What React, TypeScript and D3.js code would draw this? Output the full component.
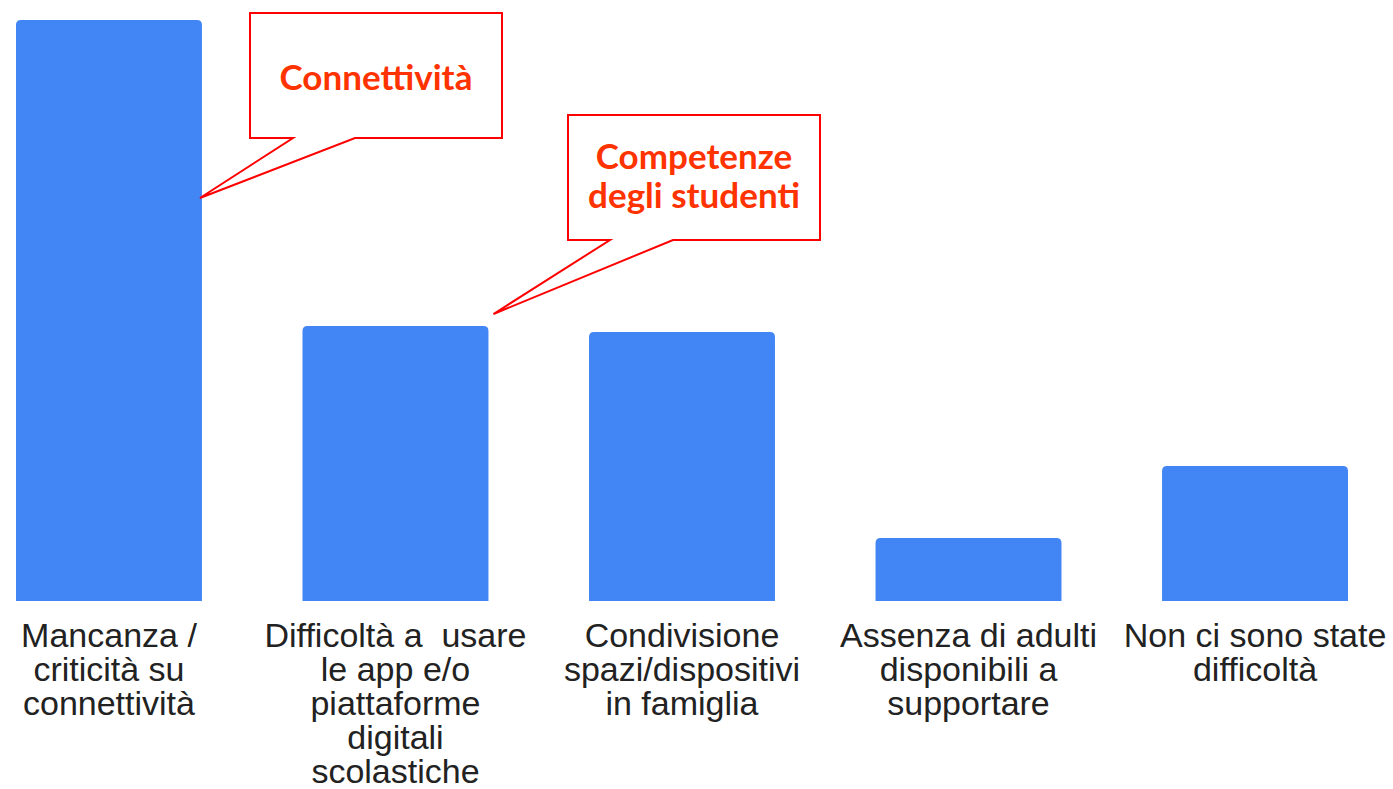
import React from 'react';
import * as d3 from 'd3';

const categories = [
  'Mancanza / criticità su connettività',
  'Difficoltà a  usare le app e/o piattaforme digitali scolastiche',
  'Condivisione spazi/dispositivi in famiglia',
  'Assenza di adulti disponibili a supportare',
  'Non ci sono state difficoltà',
];

// label line breaks as they appear under each bar
const labelLines = [
  ['Mancanza /', 'criticità su', 'connettività'],
  ['Difficoltà a  usare', 'le app e/o', 'piattaforme', 'digitali', 'scolastiche'],
  ['Condivisione', 'spazi/dispositivi', 'in famiglia'],
  ['Assenza di adulti', 'disponibili a', 'supportare'],
  ['Non ci sono state', 'difficoltà'],
];

const values = [58.1, 27.5, 26.9, 6.3, 13.5];

const callouts = [
  { bar: 0, lines: ['Connettività'] },
  { bar: 1, lines: ['Competenze', 'degli studenti'] },
];

const W = 1393;
const H = 789;

function topRounded(x: number, y: number, w: number, h: number, r: number) {
  return `M${x},${y + h} V${y + r} Q${x},${y} ${x + r},${y} H${x + w - r} Q${x + w},${y} ${x + w},${y + r} V${y + h} Z`;
}

export default function App() {
  const x = d3.scaleBand<string>().domain(categories).range([16, 1348]).paddingInner(0.351).paddingOuter(0);
  const y = d3.scaleLinear().domain([0, d3.max(values) as number]).range([601, 20]);
  const bw = x.bandwidth();

  // callout boxes: box placed relative to the bar they point at
  const boxes = callouts.map((c, i) => {
    const cat = categories[c.bar];
    const bx = (x(cat) as number) + bw;
    const top = y(values[c.bar]);
    if (i === 0) {
      return { ...c, left: 250, top: 13, w: 252, h: 125, tip: [bx - 2, 198], n1: 293, n2: 355 };
    }
    return { ...c, left: 568, top: 115, w: 252, h: 125, tip: [bx + 5, top - 12], n1: 610, n2: 673 };
  });

  return (
    <svg width={W} height={H} style={{ position: 'absolute', left: 0, top: 0, background: '#fff' }}>
      {categories.map((c, i) => (
        <path key={c} d={topRounded(x(c) as number, y(values[i]), bw, 601 - y(values[i]), 5)} fill="#4285f4" />
      ))}
      {categories.map((c, i) => {
        const cx = (x(c) as number) + bw / 2;
        return (
          <text key={'l' + i} x={cx} textAnchor="middle" fill="#222" fontFamily="'Liberation Sans', Arial, sans-serif" fontSize={34} style={{ whiteSpace: 'pre' }}>
            {labelLines[i].map((ln, j) => (
              <tspan key={j} x={cx} y={647 + j * 34}>{ln}</tspan>
            ))}
          </text>
        );
      })}
      {boxes.map((b, i) => {
        const r = b.left + b.w;
        const bt = b.top + b.h;
        const d = `M${b.left},${b.top} H${r} V${bt} H${b.n2} L${b.tip[0]},${b.tip[1]} L${b.n1},${bt} H${b.left} Z`;
        const cx = b.left + b.w / 2;
        return (
          <g key={'c' + i}>
            <path d={d} fill="#fff" stroke="#ff0000" strokeWidth={2} />
            <text textAnchor="middle" fill="#ff3300" fontFamily="Lato, 'Open Sans', sans-serif" fontWeight="bold" fontSize={35}>
              {b.lines.map((ln, j) => (
                <tspan key={j} x={cx} y={(b.lines.length === 1 ? 90 : 169) + j * 39}>{ln}</tspan>
              ))}
            </text>
          </g>
        );
      })}
    </svg>
  );
}
